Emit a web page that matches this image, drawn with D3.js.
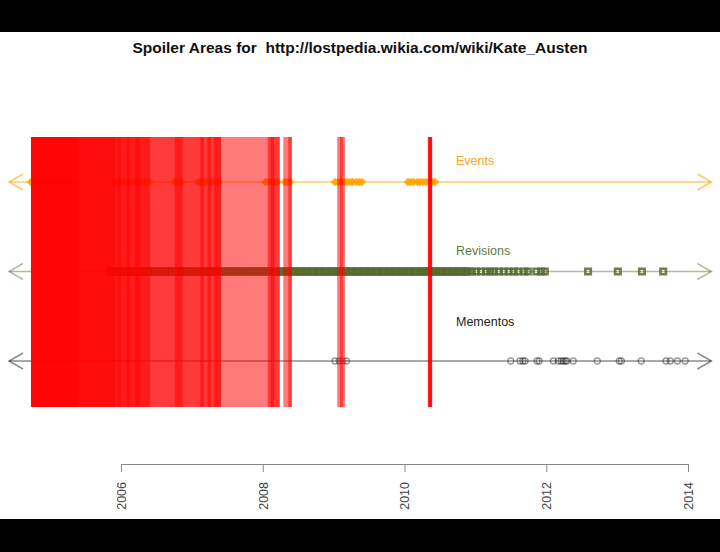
<!DOCTYPE html>
<html>
<head>
    <title>Spoiler Areas</title>
    <script src="https://d3js.org/d3.v7.min.js"></script>
    <style>
        body { margin: 0; background: #000; }
        svg { display: block; font-family: "Liberation Sans", Arial, Helvetica, sans-serif; }
    </style>
</head>
<body>
    <div id="chart"></div>
    <script>
// spoiler intervals, decimal years [start, end]
const spoilerAreas = [
    [2004.73, 2008.24], [2008.29, 2008.41],
    [2004.73, 2007.41], [2004.73, 2006.41],
    [2004.73, 2005.92], [2004.73, 2005.38],
    [2005.95, 2006.00], [2006.08, 2006.12], [2006.20, 2006.26],
    [2006.76, 2006.87], [2007.12, 2007.17], [2007.22, 2007.27],
    [2007.31, 2007.41], [2008.07, 2008.24], [2008.11, 2008.16],
    [2008.36, 2008.41],
    [2009.05, 2009.16], [2009.09, 2009.13],
    [2010.33, 2010.39], [2010.33, 2010.39],
    [2010.34, 2010.385], [2010.34, 2010.385]
];

// episode air dates (events)
const events = [
    2004.73, 2004.78, 2004.83, 2004.88, 2004.94, 2004.99, 2005.05, 2005.11,
    2005.17, 2005.23, 2005.29, 2005.35,
    2005.93, 2005.98, 2006.04, 2006.10, 2006.16, 2006.22, 2006.28, 2006.34, 2006.40,
    2006.76, 2006.80, 2006.85,
    2007.08, 2007.12, 2007.16, 2007.20, 2007.25, 2007.29, 2007.33, 2007.38,
    2008.04, 2008.08, 2008.12, 2008.17, 2008.21,
    2008.31, 2008.35, 2008.39,
    2009.02, 2009.06, 2009.10, 2009.15, 2009.19, 2009.23, 2009.27, 2009.32, 2009.36, 2009.40,
    2010.05, 2010.09, 2010.13, 2010.18, 2010.22, 2010.26, 2010.30, 2010.35, 2010.39, 2010.43
];

// page revisions
const revisions = [
    2005.84, 2005.86, 2005.90, 2005.92, 2005.95, 2005.99,
    2006.01, 2006.04, 2006.08, 2006.10, 2006.13, 2006.17, 2006.19, 2006.22, 2006.26, 2006.28,
    2006.31, 2006.35, 2006.37, 2006.40, 2006.44, 2006.46, 2006.49, 2006.53, 2006.55, 2006.58,
    2006.62, 2006.64, 2006.67, 2006.71, 2006.73, 2006.76, 2006.80, 2006.82, 2006.85, 2006.89,
    2006.91, 2006.94, 2006.98,
    2007.00, 2007.03, 2007.07, 2007.09, 2007.12, 2007.16, 2007.18, 2007.21, 2007.25, 2007.27,
    2007.30, 2007.34, 2007.36, 2007.39, 2007.43, 2007.45, 2007.48, 2007.52, 2007.54, 2007.57,
    2007.61, 2007.63, 2007.66, 2007.70, 2007.72, 2007.75, 2007.79, 2007.81, 2007.84, 2007.88,
    2007.90, 2007.93, 2007.97, 2007.99,
    2008.02, 2008.06, 2008.08, 2008.11, 2008.15, 2008.17, 2008.20, 2008.24, 2008.26, 2008.29,
    2008.33, 2008.35, 2008.38, 2008.42, 2008.44, 2008.47, 2008.51, 2008.53, 2008.56, 2008.60,
    2008.62, 2008.65, 2008.69, 2008.71, 2008.74, 2008.78, 2008.80, 2008.83, 2008.87, 2008.89,
    2008.92, 2008.96, 2008.98,
    2009.01, 2009.05, 2009.07, 2009.10, 2009.14, 2009.16, 2009.19, 2009.23, 2009.25, 2009.28,
    2009.32, 2009.34, 2009.37, 2009.41, 2009.43, 2009.46, 2009.50, 2009.52, 2009.55, 2009.59,
    2009.61, 2009.64, 2009.68, 2009.70, 2009.73, 2009.77, 2009.79, 2009.82, 2009.86, 2009.88,
    2009.91, 2009.95, 2009.97,
    2010.00, 2010.04, 2010.06, 2010.09, 2010.13, 2010.15, 2010.18, 2010.22, 2010.24, 2010.27,
    2010.31, 2010.33, 2010.36, 2010.40, 2010.42, 2010.45, 2010.49, 2010.51, 2010.54, 2010.58,
    2010.60, 2010.63, 2010.67, 2010.69, 2010.72, 2010.76, 2010.78, 2010.81, 2010.85, 2010.87,
    2010.90,
    2010.95, 2011.01, 2011.08, 2011.15, 2011.21,
    2011.26, 2011.33, 2011.40, 2011.47, 2011.54, 2011.60,
    2011.69, 2011.74,
    2011.86, 2011.93, 2011.98,
    2012.59, 2013.01, 2013.35, 2013.65
];

// archived mementos
const mementos = [
    2009.02, 2009.08, 2009.13, 2009.18,
    2011.50, 2011.63, 2011.67, 2011.70, 2011.87, 2011.90,
    2012.10, 2012.17, 2012.21, 2012.24, 2012.27, 2012.29, 2012.38,
    2012.72, 2013.03, 2013.06, 2013.34,
    2013.69, 2013.75, 2013.85, 2013.96
];

const rows = ['Events', 'Revisions', 'Mementos'];
const rowColors = ['#ffa500', '#556b2f', '#000000'];
const tickYears = [2006, 2008, 2010, 2012, 2014];
const timelineSpan = [2004.42, 2014.33];
const title = 'Spoiler Areas for  http://lostpedia.wikia.com/wiki/Kate_Austen';

const width = 720;
const height = 552;

const svg = d3.select('#chart')
    .append('svg')
    .attr('width', width)
    .attr('height', height);

// black letterbox bars
svg.append('rect').attr('x', 0).attr('y', 0).attr('width', width).attr('height', height).attr('fill', '#000');
svg.append('rect').attr('x', 0).attr('y', 32).attr('width', width).attr('height', 487).attr('fill', '#fff');

const x = d3.scaleLinear().domain([2006, 2014]).range([121, 688]);
const y = d3.scalePoint().domain(rows).range([182, 361]);
const color = d3.scaleOrdinal().domain(rows).range(rowColors);

svg.append('text')
    .attr('x', 360)
    .attr('y', 52.5)
    .attr('text-anchor', 'middle')
    .attr('font-size', 15.5)
    .attr('font-weight', 'bold')
    .attr('fill', '#111')
    .style('white-space', 'pre')
    .text(title);

// timelines with open arrowheads at both ends
const lineOpacity = { Events: 0.6, Revisions: 0.45, Mementos: 0.45 };
const lines = svg.append('g').attr('class', 'timelines');
rows.forEach(r => {
    const yy = y(r);
    const x0 = x(timelineSpan[0]);
    const x1 = x(timelineSpan[1]);
    const g = lines.append('g')
        .attr('stroke', color(r))
        .attr('stroke-opacity', lineOpacity[r])
        .attr('stroke-width', 1.5)
        .attr('fill', 'none');
    g.append('line').attr('x1', x0).attr('x2', x1).attr('y1', yy).attr('y2', yy);
    g.append('path').attr('d', d3.line()([[x0 + 14, yy - 8], [x0, yy], [x0 + 14, yy + 8]]));
    g.append('path').attr('d', d3.line()([[x1 - 14, yy - 8], [x1, yy], [x1 - 14, yy + 8]]));
});

// events: filled diamonds
svg.append('g')
    .selectAll('path')
    .data(events)
    .enter()
    .append('path')
    .attr('d', d3.symbol().type(d3.symbolSquare).size(38))
    .attr('transform', d => `translate(${x(d)},${y('Events')}) rotate(45)`)
    .attr('fill', color('Events'))
    .attr('fill-opacity', 0.9);

// revisions: open squares
svg.append('g')
    .selectAll('path')
    .data(revisions)
    .enter()
    .append('path')
    .attr('d', d3.symbol().type(d3.symbolSquare).size(30))
    .attr('transform', d => `translate(${x(d)},${y('Revisions')})`)
    .attr('fill', 'none')
    .attr('stroke', color('Revisions'))
    .attr('stroke-opacity', 0.85)
    .attr('stroke-width', 2.6);

// mementos: open circles
svg.append('g')
    .selectAll('circle')
    .data(mementos)
    .enter()
    .append('circle')
    .attr('cx', d => x(d))
    .attr('cy', y('Mementos'))
    .attr('r', 3)
    .attr('fill', 'none')
    .attr('stroke', color('Mementos'))
    .attr('stroke-opacity', 0.4)
    .attr('stroke-width', 1.3);

// spoiler areas on top
svg.append('g')
    .selectAll('rect')
    .data(spoilerAreas)
    .enter()
    .append('rect')
    .attr('x', d => x(d[0]))
    .attr('width', d => x(d[1]) - x(d[0]))
    .attr('y', y('Events') - 45)
    .attr('height', y('Mementos') - y('Events') + 91)
    .attr('fill', '#ff0000')
    .attr('fill-opacity', 0.52);

// row labels
const labelDy = { Events: -17, Revisions: -17, Mementos: -35 };
const labelColors = { Events: '#f5a623', Revisions: '#5f7a3c', Mementos: '#222' };
svg.append('g')
    .selectAll('text')
    .data(rows)
    .enter()
    .append('text')
    .attr('x', 456)
    .attr('y', d => y(d) + labelDy[d])
    .attr('font-size', 12.5)
    .attr('fill', d => labelColors[d])
    .text(d => d);

// time axis
const axis = svg.append('g')
    .attr('transform', 'translate(0,464)')
    .call(d3.axisBottom(x).tickValues(tickYears).tickFormat(d3.format('d')).tickSize(8));
axis.select('.domain').attr('stroke', '#888');
axis.selectAll('.tick line').attr('stroke', '#888');
axis.selectAll('.tick text')
    .attr('font-size', 12.5)
    .attr('font-family', '"Liberation Sans", Arial, sans-serif')
    .attr('fill', '#444')
    .attr('transform', 'rotate(-90)')
    .attr('text-anchor', 'end')
    .attr('x', -18)
    .attr('y', 0)
    .attr('dy', '0.35em');
    </script>
</body>
</html>
